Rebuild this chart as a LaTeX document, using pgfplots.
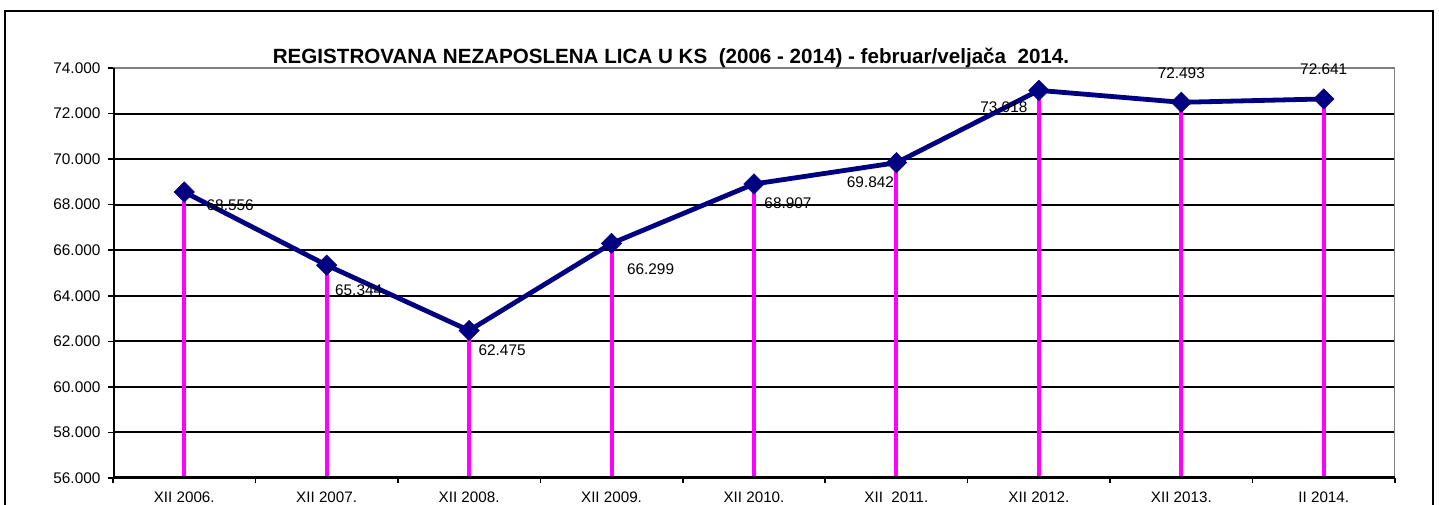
\documentclass[border=0pt]{standalone}
\usepackage{pgfplots}
\pgfplotsset{compat=1.18}
\usepackage{pgfplotstable}
\usepackage{fontspec}
\setmainfont{Liberation Sans}
\definecolor{navyline}{HTML}{000080}
\definecolor{mag}{HTML}{FF00FF}
\pgfplotstableread{
x y dx dy
0 68556 46 -13
1 65344 32 -25
2 62475 33 -20
3 66299 39 -26
4 68907 34 -19
5 69842 -26 -19
6 73018 -35 -17
7 72493 0 29
8 72641 0 30
}\data
\begin{document}
\begin{tikzpicture}[x=1pt,y=1pt]
\useasboundingbox (0,0) rectangle (1439,505);
\draw[line width=1.8pt] (5,0) -- (5,494) -- (1433,494) -- (1433,0);
\begin{axis}[
  at={(113pt,27pt)}, anchor=south west, scale only axis,
  width=1282pt, height=410pt,
  xmin=-0.5, xmax=8.5, ymin=56000, ymax=74000,
  axis line style={draw=none},
  ytick={56000,58000,...,74000},
  scaled y ticks=false,
  xtick pos=bottom, ytick pos=left,
  ymajorgrids, grid style={black, line width=2pt},
  tick align=outside, major tick length=5pt,
  tick style={black, line width=1.5pt},
  xtick={-0.5,0.5,...,8.5}, xticklabels={},
  extra x ticks={0,1,2,3,4,5,6,7,8},
  extra x tick labels={XII 2006., XII 2007., XII 2008., XII 2009., XII 2010., XII\ \ 2011., XII 2012., XII 2013., II 2014.},
  extra x tick style={major tick length=0pt, grid=none},
  x tick label style={font=\fontsize{15.2}{18}\selectfont, anchor=base, yshift=-25pt},
  y tick label style={font=\fontsize{15.4}{18}\selectfont, xshift=-4pt},
  yticklabel style={/pgf/number format/.cd, fixed, precision=0, 1000 sep={.}, assume math mode=true},
  clip=true,
]
\addplot[ycomb, mag, line width=4pt, no marks] table[x=x,y=y]{\data};
\addplot[navyline, line width=4.8pt, mark=square*, mark size=7.2pt,
  mark options={rotate=45, fill=navyline, draw=navyline, line width=0.5pt}] table[x=x,y=y]{\data};
\addplot[draw=none, no marks,
  visualization depends on={\thisrow{dx}\as\dx},
  visualization depends on={\thisrow{dy}\as\dy},
  nodes near coords={\pgfmathprintnumber[fixed,precision=0,1000 sep={.},assume math mode=true]{\pgfplotspointmeta}},
  every node near coord/.append style={anchor=center, xshift=\dx pt, yshift=\dy pt, font=\fontsize{15.4}{18}\selectfont, text=black, inner sep=0pt}
  ] table[x=x,y=y]{\data};
\draw[gray, line width=2pt] (rel axis cs:0,1) -- (rel axis cs:1,1) -- (rel axis cs:1,0);
\draw[black, line width=3pt] (rel axis cs:0,1) -- (rel axis cs:0,0) -- (rel axis cs:1,0);
\end{axis}
\node[font=\bfseries\fontsize{20.6}{24}\selectfont, inner sep=0pt, anchor=base] at (671,441) {REGISTROVANA NEZAPOSLENA LICA U KS\ \ (2006 - 2014) - februar/veljača\ \ 2014.};
\end{tikzpicture}
\end{document}
